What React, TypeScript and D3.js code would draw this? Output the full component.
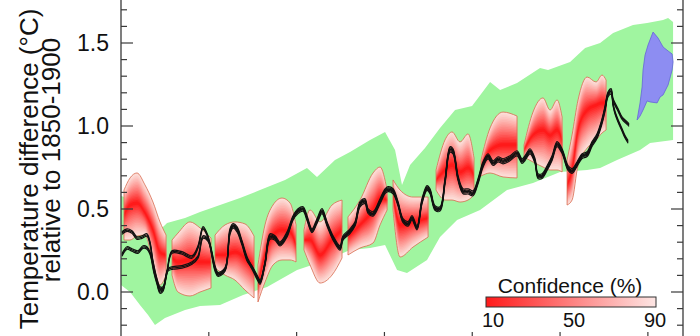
import React from 'react';
import * as d3 from 'd3';

const W = 700;
const H = 336;

// Axis ticks
const xTickYears = [1970, 1980, 1990, 2000, 2010, 2020];
const yMajorTicks = [0, 0.5, 1.0, 1.5];
const yMinorTicks = [-0.2, -0.1, 0.1, 0.2, 0.3, 0.4, 0.6, 0.7, 0.8, 0.9, 1.1, 1.2, 1.3, 1.4, 1.6, 1.7];

// Model range (green band)
const greenUpYears = [1960.0, 1961.59, 1963.3, 1964.44, 1965.24, 1967.29, 1969.0, 1971.28, 1973.55, 1975.83, 1978.68, 1981.18, 1982.32, 1984.37, 1986.08, 1988.36, 1990.07, 1991.21, 1992.0, 1992.92, 1994.62, 1996.33, 1998.04, 1999.98, 2002.03, 2003.17, 2005.1, 2007.72, 2008.63, 2011.14, 2012.85, 2014.56, 2016.04, 2018.31, 2019.91, 2021.73, 2022.3, 2022.87];
const greenUp = [0.578, 0.554, 0.464, 0.373, 0.416, 0.446, 0.482, 0.524, 0.566, 0.614, 0.675, 0.747, 0.693, 0.795, 0.843, 0.916, 0.964, 0.855, 0.645, 0.765, 0.867, 0.988, 1.096, 1.12, 1.265, 1.217, 1.259, 1.349, 1.337, 1.386, 1.47, 1.5, 1.56, 1.608, 1.62, 1.639, 1.651, 1.627];
const greenLoYears = [1960.0, 1961.03, 1962.16, 1963.08, 1963.87, 1965.01, 1967.29, 1969.0, 1971.28, 1973.9, 1976.63, 1980.05, 1983.46, 1986.08, 1988.36, 1990.07, 1991.44, 1992.57, 1994.85, 1996.33, 1998.27, 2000.89, 2003.96, 2006.92, 2010.0, 2013.08, 2014.56, 2016.49, 2019.11, 2020.25, 2022.87];
const greenLo = [0.042, 0.0, -0.078, -0.139, -0.199, -0.157, -0.108, -0.084, -0.078, -0.018, 0.03, 0.133, 0.193, 0.253, 0.265, 0.283, 0.133, 0.114, 0.193, 0.331, 0.434, 0.494, 0.614, 0.657, 0.723, 0.735, 0.747, 0.795, 0.855, 0.898, 0.916];

// Forecast range (blue patch outline)
const blueYears = [2018.77, 2019.11, 2019.34, 2019.45, 2019.68, 2020.02, 2020.59, 2021.16, 2021.73, 2022.3, 2022.76, 2022.87, 2022.76, 2022.3, 2021.73, 2021.39, 2021.05, 2020.25, 2019.91, 2019.45, 2019.11];
const blueVals = [1.036, 1.139, 1.235, 1.337, 1.428, 1.488, 1.566, 1.53, 1.476, 1.452, 1.434, 1.386, 1.337, 1.247, 1.187, 1.175, 1.139, 1.145, 1.151, 1.096, 1.06];

// Hindcast plumes (red)
const plumeYears = [
  [1960.34, 1961.03, 1961.82, 1962.73, 1963.64, 1964.44, 1965.13],
  [1965.81, 1966.49, 1967.86, 1969.0, 1970.25],
  [1970.71, 1971.85, 1972.98, 1974.12, 1975.15],
  [1975.6, 1976.4, 1977.31, 1978.34, 1979.25, 1979.93],
  [1980.84, 1981.53, 1982.67, 1984.03, 1985.17],
  [1985.85, 1987.22, 1988.7, 1989.5, 1990.3],
  [1990.98, 1991.78, 1993.26, 1994.97],
  [1995.88, 1996.9, 1997.7, 1998.61, 1999.52, 2000.2],
  [2001.0, 2002.03, 2003.51, 2005.1],
  [2005.9, 2006.92, 2008.06, 2008.86, 2009.66, 2010.23],
  [2010.8, 2011.37, 2012.05, 2013.08, 2014.1, 2014.78, 2015.24],
];
const plumeHi = [
  [0.614, 0.687, 0.717, 0.645, 0.542, 0.422, 0.343],
  [0.313, 0.355, 0.422, 0.386, 0.325],
  [0.343, 0.404, 0.422, 0.41, 0.337],
  [0.163, 0.404, 0.524, 0.566, 0.536, 0.404],
  [0.373, 0.494, 0.422, 0.524, 0.554],
  [0.452, 0.554, 0.717, 0.753, 0.614],
  [0.675, 0.614, 0.572, 0.572],
  [0.735, 0.916, 0.964, 0.904, 0.952, 0.807],
  [0.795, 0.988, 1.084, 1.06],
  [0.886, 1.084, 1.169, 1.096, 1.157, 1.054],
  [0.795, 0.946, 1.157, 1.295, 1.265, 1.307, 1.277],
];
const plumeMid = [
  [0.464, 0.524, 0.536, 0.476, 0.373, 0.241, 0.223],
  [0.205, 0.181, 0.193, 0.181, 0.181],
  [0.223, 0.223, 0.241, 0.205, 0.145],
  [0.042, 0.223, 0.343, 0.373, 0.361, 0.283],
  [0.313, 0.313, 0.223, 0.313, 0.373],
  [0.331, 0.404, 0.494, 0.566, 0.554],
  [0.584, 0.404, 0.422, 0.446],
  [0.675, 0.735, 0.765, 0.723, 0.747, 0.705],
  [0.747, 0.855, 0.886, 0.886],
  [0.855, 0.946, 0.976, 0.946, 0.976, 0.916],
  [0.645, 0.735, 0.976, 1.096, 1.127, 1.139, 1.139],
];
const plumeLo = [
  [0.313, 0.313, 0.337, 0.343, 0.181, 0.042, 0.102],
  [0.102, 0.0, -0.024, 0.0, 0.024],
  [0.145, 0.102, 0.072, 0.012, -0.036],
  [-0.06, 0.06, 0.163, 0.193, 0.193, 0.181],
  [0.253, 0.163, 0.054, 0.102, 0.205],
  [0.223, 0.265, 0.295, 0.404, 0.494],
  [0.494, 0.211, 0.271, 0.331],
  [0.614, 0.554, 0.554, 0.542, 0.554, 0.584],
  [0.699, 0.717, 0.693, 0.687],
  [0.813, 0.783, 0.753, 0.735, 0.735, 0.723],
  [0.524, 0.554, 0.765, 0.867, 0.916, 0.958, 0.976],
];

// Observations (black)
const obsAYears = [1960.11, 1960.68, 1961.25, 1961.82, 1962.39, 1962.96, 1963.3, 1963.64, 1964.1, 1964.44, 1964.78, 1965.24, 1965.81, 1966.95, 1968.09, 1968.77, 1969.34, 1969.91, 1970.71, 1971.05, 1971.85, 1972.41, 1972.76, 1973.21, 1973.78, 1974.35, 1974.92, 1975.49, 1975.83, 1976.4, 1976.97, 1977.54, 1978.11, 1978.91, 1979.59, 1980.16, 1980.73, 1981.18, 1981.75, 1982.32, 1982.89, 1983.46, 1984.15, 1984.94, 1985.28, 1986.08, 1986.65, 1987.22, 1987.79, 1988.13, 1988.7, 1989.5, 1990.07, 1990.41, 1990.98, 1991.55, 1992.12, 1992.69, 1993.14, 1993.71, 1994.28, 1994.85, 1995.19, 1995.76, 1996.33, 1996.9, 1997.47, 1997.81, 1998.38, 1998.95, 1999.52, 2000.09, 2000.66, 2001.23, 2001.8, 2002.37, 2002.94, 2003.51, 2004.3, 2005.1, 2005.67, 2006.01, 2006.58, 2007.15, 2007.49, 2007.95, 2008.52, 2009.09, 2009.66, 2010.23, 2010.91, 2011.37, 2011.94, 2012.51, 2013.08, 2013.64, 2014.21, 2014.78, 2015.13, 2015.47, 2015.81, 2016.04, 2016.61, 2017.06, 2017.63, 2017.86];
const obsA = [0.355, 0.373, 0.361, 0.325, 0.331, 0.343, 0.295, 0.181, 0.072, 0.024, 0.024, 0.12, 0.241, 0.235, 0.211, 0.271, 0.386, 0.331, 0.133, 0.102, 0.133, 0.373, 0.404, 0.386, 0.301, 0.205, 0.145, 0.084, 0.054, 0.175, 0.343, 0.331, 0.295, 0.355, 0.452, 0.494, 0.506, 0.452, 0.373, 0.434, 0.494, 0.416, 0.331, 0.271, 0.331, 0.373, 0.416, 0.536, 0.554, 0.494, 0.476, 0.554, 0.614, 0.627, 0.614, 0.536, 0.434, 0.416, 0.452, 0.392, 0.554, 0.633, 0.614, 0.512, 0.506, 0.675, 0.867, 0.855, 0.693, 0.614, 0.614, 0.602, 0.675, 0.777, 0.825, 0.783, 0.807, 0.795, 0.813, 0.843, 0.795, 0.813, 0.855, 0.795, 0.705, 0.705, 0.753, 0.813, 0.898, 0.855, 0.753, 0.735, 0.777, 0.825, 0.837, 0.898, 0.946, 1.036, 1.114, 1.199, 1.217, 1.157, 1.096, 1.048, 1.018, 1.006];
const obsBYears = [1960.11, 1960.68, 1961.25, 1961.94, 1962.51, 1962.96, 1963.3, 1963.76, 1964.1, 1964.44, 1964.78, 1965.35, 1965.92, 1966.95, 1968.09, 1968.77, 1969.34, 1969.91, 1970.71, 1971.05, 1971.85, 1972.41, 1972.76, 1973.21, 1973.78, 1974.35, 1974.92, 1975.49, 1975.83, 1976.4, 1976.97, 1977.54, 1978.11, 1978.91, 1979.59, 1980.16, 1980.73, 1981.18, 1981.75, 1982.32, 1982.89, 1983.46, 1984.15, 1984.94, 1985.28, 1986.08, 1986.65, 1987.22, 1987.79, 1988.13, 1988.7, 1989.5, 1990.07, 1990.41, 1990.98, 1991.55, 1992.12, 1992.69, 1993.14, 1993.71, 1994.28, 1994.85, 1995.19, 1995.76, 1996.33, 1996.9, 1997.47, 1997.81, 1998.38, 1998.95, 1999.52, 2000.09, 2000.66, 2001.23, 2001.8, 2002.37, 2002.94, 2003.51, 2004.3, 2005.1, 2005.67, 2006.01, 2006.58, 2007.15, 2007.49, 2007.95, 2008.52, 2009.09, 2009.66, 2010.23, 2010.91, 2011.37, 2011.94, 2012.51, 2013.08, 2013.64, 2014.21, 2014.78, 2015.13, 2015.47, 2015.81, 2016.04, 2016.27, 2016.61, 2017.06, 2017.4, 2017.75];
const obsB = [0.223, 0.265, 0.253, 0.241, 0.271, 0.265, 0.235, 0.12, 0.054, 0.0, 0.012, 0.133, 0.145, 0.151, 0.175, 0.211, 0.331, 0.313, 0.15, 0.11, 0.14, 0.355, 0.392, 0.37, 0.29, 0.195, 0.15, 0.095, 0.066, 0.17, 0.325, 0.32, 0.285, 0.34, 0.44, 0.48, 0.494, 0.44, 0.365, 0.42, 0.48, 0.405, 0.32, 0.26, 0.32, 0.36, 0.405, 0.52, 0.54, 0.482, 0.465, 0.54, 0.6, 0.612, 0.6, 0.525, 0.425, 0.405, 0.44, 0.382, 0.54, 0.62, 0.6, 0.5, 0.495, 0.66, 0.85, 0.84, 0.68, 0.6, 0.598, 0.588, 0.66, 0.76, 0.81, 0.77, 0.792, 0.78, 0.798, 0.828, 0.782, 0.8, 0.84, 0.782, 0.692, 0.692, 0.74, 0.8, 0.884, 0.842, 0.74, 0.722, 0.765, 0.812, 0.824, 0.884, 0.932, 1.022, 1.1, 1.185, 1.2, 1.127, 1.078, 1.03, 0.976, 0.935, 0.904];

// Legend
const legendTicks = [10, 50, 90];

const FONT = "'Liberation Sans', Arial, Helvetica, sans-serif";

export default function App() {
  const x = d3.scaleLinear().domain([1960, 2024]).range([121, 683]);
  const y = d3.scaleLinear().domain([0, 1.5]).range([292, 43]);
  const lx = d3.scaleLinear().domain([10, 90]).range([493, 655]);

  const line = d3.line<[number, number]>().x((d) => x(d[0])).y((d) => y(d[1]));
  const smooth = d3
    .line<[number, number]>()
    .x((d) => x(d[0]))
    .y((d) => y(d[1]))
    .curve(d3.curveCatmullRom.alpha(0.5));

  const greenPts: [number, number][] = [
    ...greenUpYears.map((t, i) => [t, greenUp[i]] as [number, number]),
    ...greenLoYears.map((t, i) => [t, greenLo[i]] as [number, number]).reverse(),
  ];
  const bluePts: [number, number][] = blueYears.map((t, i) => [t, blueVals[i]]);

  const pale = '#fcdfd9';
  const red = '#ff1a1a';
  const colorAt = d3.interpolateRgb(pale, red);
  const NL = 20;

  const plumes = plumeYears.map((yrs, p) => {
    const layers = [] as { d: string; fill: string }[];
    for (let k = 0; k < NL; k++) {
      const t = k / (NL - 1);
      const f = 1 - t * 0.95;
      const area = d3
        .area<number>()
        .x((_, i) => x(yrs[i]))
        .y0((_, i) => y(plumeMid[p][i] - (plumeMid[p][i] - plumeLo[p][i]) * f))
        .y1((_, i) => y(plumeMid[p][i] + (plumeHi[p][i] - plumeMid[p][i]) * f))
        .curve(d3.curveMonotoneX);
      layers.push({ d: area(yrs) || '', fill: colorAt(Math.pow(t, 1.15)) });
    }
    const outline =
      d3
        .area<number>()
        .x((_, i) => x(yrs[i]))
        .y0((_, i) => y(plumeLo[p][i]))
        .y1((_, i) => y(plumeHi[p][i]))
        .curve(d3.curveMonotoneX)(yrs) || '';
    return { layers, outline };
  });

  const obsAPts: [number, number][] = obsAYears.map((t, i) => [t, obsA[i]]);
  const obsBPts: [number, number][] = obsBYears.map((t, i) => [t, obsB[i]]);
  const bundleOffsets = [-1.3, 0, 1.3];

  const allY = [...yMajorTicks.map((v) => ({ v, major: true })), ...yMinorTicks.map((v) => ({ v, major: false }))];
  const axisColor = '#3a3a3a';

  return (
    <svg
      width={W}
      height={H}
      style={{ position: 'absolute', left: 0, top: 0, background: '#fff' }}
      fontFamily={FONT}
    >
      <defs>
        <linearGradient id="confGrad" x1="0" x2="1" y1="0" y2="0">
          <stop offset="0%" stopColor={red} />
          <stop offset="100%" stopColor="#fde6e4" />
        </linearGradient>
      </defs>
      <rect x={0} y={0} width={W} height={H} fill="#fff" />

      {/* green model range */}
      <path d={line(greenPts) + 'Z'} fill="#a0f5a0" stroke="none" />

      {/* blue forecast */}
      <path d={line(bluePts) + 'Z'} fill="#8d8df2" stroke="#6464d8" strokeWidth={0.8} />

      {/* red plumes */}
      {plumes.map((pl, i) => (
        <g key={i}>
          {pl.layers.map((l, k) => (
            <path key={k} d={l.d} fill={l.fill} stroke="none" />
          ))}
          <path d={pl.outline} fill="none" stroke="#d9694f" strokeWidth={0.8} />
        </g>
      ))}

      {/* observations (drawn as thin bundles) */}
      {bundleOffsets.map((o) => (
        <g key={o} transform={`translate(0,${o})`}>
          <path d={smooth(obsBPts) || ''} fill="none" stroke="#111" strokeWidth={1.2} strokeLinejoin="round" />
          <path d={smooth(obsAPts) || ''} fill="none" stroke="#111" strokeWidth={1.2} strokeLinejoin="round" />
        </g>
      ))}

      {/* axes frame */}
      <line x1={121} x2={121} y1={0} y2={H} stroke={axisColor} strokeWidth={1.3} />
      <line x1={683} x2={683} y1={0} y2={H} stroke={axisColor} strokeWidth={1.3} />
      {allY.map((t, i) => (
        <g key={i}>
          <line x1={121} x2={121 + (t.major ? 12 : 6)} y1={y(t.v)} y2={y(t.v)} stroke={axisColor} strokeWidth={1.2} />
          <line x1={683} x2={683 - (t.major ? 12 : 6)} y1={y(t.v)} y2={y(t.v)} stroke={axisColor} strokeWidth={1.2} />
        </g>
      ))}
      {xTickYears.map((t) => (
        <line key={t} x1={x(t)} x2={x(t)} y1={332} y2={H} stroke={axisColor} strokeWidth={1.2} />
      ))}
      {yMajorTicks.map((v) => (
        <text key={v} x={109} y={y(v) + 8} fontSize={23} textAnchor="end" fill="#111">
          {d3.format('.1f')(v)}
        </text>
      ))}

      {/* y title */}
      <text transform="translate(38,169) rotate(-90)" fontSize={26} textAnchor="middle" fill="#111">
        Temperature difference (°C)
      </text>
      <text transform="translate(60,160) rotate(-90)" fontSize={26} textAnchor="middle" fill="#111">
        relative to 1850-1900
      </text>

      {/* legend */}
      <text x={570} y={293} fontSize={21} textAnchor="middle" fill="#111">
        Confidence (%)
      </text>
      <rect x={486} y={297} width={170} height={10} fill="url(#confGrad)" stroke="#333" strokeWidth={1} />
      {legendTicks.map((v) => (
        <text key={v} x={lx(v)} y={327} fontSize={20} textAnchor="middle" fill="#111">
          {v}
        </text>
      ))}
    </svg>
  );
}
